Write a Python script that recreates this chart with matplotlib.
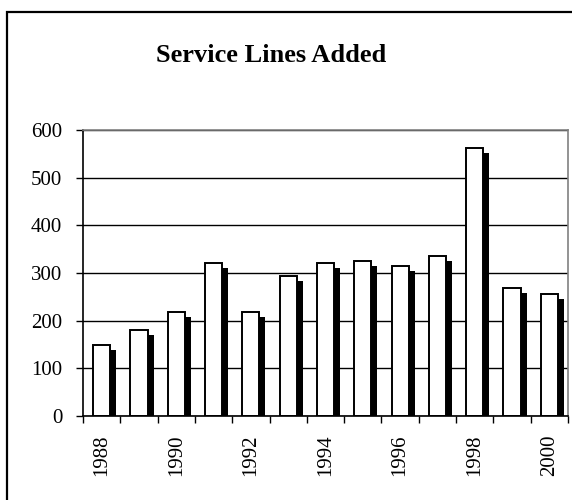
import matplotlib
matplotlib.use("Agg")
import matplotlib.pyplot as plt
import matplotlib.patheffects as pe
from matplotlib.patches import Rectangle
import numpy as np

# values
years = [1988, 1989, 1990, 1991, 1992, 1993, 1994, 1995, 1996, 1997, 1998, 1999, 2000]
lines_added = [150, 180, 218, 322, 218, 293, 322, 326, 315, 336, 562, 268, 256]
year_labels = [str(y) if y % 2 == 0 else '' for y in years]
y_ticks = [0, 100, 200, 300, 400, 500, 600]

plt.rcParams['font.family'] = ['Liberation Serif', 'DejaVu Serif']

fig = plt.figure(figsize=(5.72, 5.0), dpi=100)

# outer frame round the whole chart (runs off the right and bottom edges)
fig.patches.append(Rectangle((7 / 572, -0.1), 1.2, 0.976 + 0.1, transform=fig.transFigure,
                             fill=False, edgecolor='black', linewidth=1.6))

ax = fig.add_axes([83 / 572, 84 / 500, 485 / 572, 286 / 500])

x = np.arange(len(years))
bars = ax.bar(x, lines_added, width=0.46, color='white', edgecolor='black', linewidth=1.4)
# black depth shadow, shifted right and down
for b in bars:
    b.set_path_effects([pe.SimplePatchShadow(offset=(4.3, -3.6), shadow_rgbFace='black', alpha=1.0),
                        pe.Normal()])

ax.set_xlim(-0.5, len(years) - 0.5)
ax.set_ylim(0, 600)
ax.set_yticks(y_ticks)
ax.yaxis.grid(True, color='black', linewidth=1.0)
ax.set_axisbelow(True)

ax.set_xticks(x)
ax.set_xticklabels(year_labels, rotation=90, fontsize=15)
ax.set_xticks(np.arange(len(years) + 1) - 0.5, minor=True)
ax.tick_params(axis='x', which='major', length=0, pad=13)
ax.tick_params(axis='x', which='minor', length=5, width=1.0, color='black')
ax.tick_params(axis='y', length=5, width=1.0, labelsize=15, pad=10)

ax.spines['top'].set_color('#808080')
ax.spines['right'].set_color('#808080')
ax.spines['left'].set_color('black')
ax.spines['bottom'].set_color('black')
for s in ax.spines.values():
    s.set_linewidth(1.2)

fig.text(271 / 572, 1 - 62 / 500, 'Service Lines Added', ha='center', va='baseline',
         fontsize=19, fontweight='bold')

fig.savefig('out.png', dpi=100)
